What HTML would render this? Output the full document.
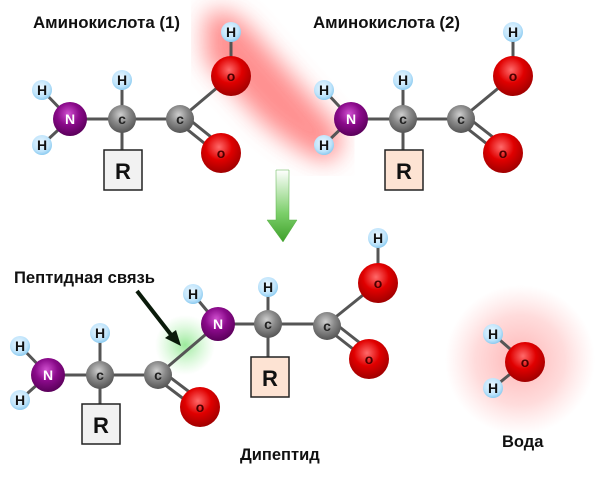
<!DOCTYPE html>
<html><head><meta charset="utf-8"><style>html,body{margin:0;padding:0;background:#fff}svg{display:block}</style></head><body>
<svg width="600" height="492" viewBox="0 0 600 492" xmlns="http://www.w3.org/2000/svg" font-family="Liberation Sans, sans-serif" font-weight="bold">
<defs>
<radialGradient id="gO" cx="0.45" cy="0.35" r="0.65"><stop offset="0" stop-color="#ff6a6a"/><stop offset="0.5" stop-color="#e00000"/><stop offset="1" stop-color="#a00000"/></radialGradient>
<radialGradient id="gN" cx="0.45" cy="0.35" r="0.65"><stop offset="0" stop-color="#d050d0"/><stop offset="0.5" stop-color="#8a0a8a"/><stop offset="1" stop-color="#5a005a"/></radialGradient>
<radialGradient id="gC" cx="0.45" cy="0.35" r="0.65"><stop offset="0" stop-color="#cfcfcf"/><stop offset="0.5" stop-color="#888"/><stop offset="1" stop-color="#555"/></radialGradient>
<radialGradient id="gH" cx="0.45" cy="0.4" r="0.6"><stop offset="0" stop-color="#eef8ff"/><stop offset="0.7" stop-color="#bfe4fb"/><stop offset="1" stop-color="#8ccbf0"/></radialGradient>
<radialGradient id="glowR"><stop offset="0" stop-color="#ff8080" stop-opacity="0.6"/><stop offset="0.6" stop-color="#ff9a9a" stop-opacity="0.35"/><stop offset="1" stop-color="#ffb0b0" stop-opacity="0"/></radialGradient>
<radialGradient id="glowG"><stop offset="0" stop-color="#70e070" stop-opacity="0.7"/><stop offset="1" stop-color="#a0f0a0" stop-opacity="0"/></radialGradient>
<linearGradient id="arr" x1="0" y1="0" x2="0" y2="1"><stop offset="0" stop-color="#fff"/><stop offset="0.6" stop-color="#7ccf6a"/><stop offset="1" stop-color="#3ea02a"/></linearGradient>
<filter id="blur"><feGaussianBlur stdDeviation="12"/></filter>
</defs>
<g filter="url(#blur)" opacity="0.7"><path d="M205,15 Q230,0 260,40 L340,130 Q345,165 320,160 Q295,150 260,120 L205,60 Z" fill="#ff6060"/></g>
<circle cx="520" cy="360" r="75" fill="url(#glowR)"/>
<circle cx="185" cy="345" r="30" fill="url(#glowG)"/>
<path d="M276,170 H289 V220 H297 L283,242 L267,220 H276 Z" fill="url(#arr)" stroke="#5bb04a" stroke-width="0.5"/>
<g stroke="#555" stroke-width="3" fill="none">
<line x1="42" y1="90" x2="70" y2="119"/><line x1="42" y1="145" x2="70" y2="119"/>
<line x1="70" y1="119" x2="180" y2="119"/><line x1="122" y1="80" x2="122" y2="150"/>
<line x1="180" y1="119" x2="231" y2="76"/><line x1="231" y1="32" x2="231" y2="76"/>
<line x1="178" y1="122" x2="214" y2="151"/><line x1="185" y1="116" x2="221" y2="145"/>
<line x1="324" y1="90" x2="351" y2="119"/><line x1="324" y1="145" x2="351" y2="119"/>
<line x1="351" y1="119" x2="461" y2="119"/><line x1="403" y1="80" x2="403" y2="150"/>
<line x1="461" y1="119" x2="513" y2="76"/><line x1="513" y1="32" x2="513" y2="76"/>
<line x1="459" y1="122" x2="496" y2="151"/><line x1="466" y1="116" x2="503" y2="145"/>
<line x1="20" y1="346" x2="48" y2="375"/><line x1="20" y1="400" x2="48" y2="375"/>
<line x1="48" y1="375" x2="158" y2="375"/><line x1="100" y1="333" x2="100" y2="405"/>
<line x1="158" y1="375" x2="218" y2="324"/>
<line x1="156" y1="378" x2="193" y2="406"/><line x1="163" y1="372" x2="200" y2="400"/>
<line x1="193" y1="294" x2="218" y2="324"/>
<line x1="218" y1="324" x2="327" y2="324"/><line x1="268" y1="287" x2="268" y2="358"/>
<line x1="327" y1="324" x2="378" y2="283"/><line x1="378" y1="238" x2="378" y2="283"/>
<line x1="325" y1="327" x2="362" y2="356"/><line x1="332" y1="321" x2="369" y2="350"/>
<line x1="493" y1="334" x2="525" y2="362"/><line x1="493" y1="388" x2="525" y2="362"/>
</g>
<rect x="104" y="150" width="38" height="40" fill="#f2f2f2" stroke="#222" stroke-width="1.5"/>
<rect x="385" y="150" width="38" height="40" fill="#fde3d3" stroke="#222" stroke-width="1.5"/>
<rect x="82" y="404" width="38" height="40" fill="#f2f2f2" stroke="#222" stroke-width="1.5"/>
<rect x="251" y="357" width="38" height="40" fill="#fde3d3" stroke="#222" stroke-width="1.5"/>
<g font-size="22" text-anchor="middle" fill="#111">
<text x="123" y="179">R</text><text x="404" y="179">R</text><text x="101" y="433">R</text><text x="270" y="386">R</text>
</g>
<line x1="137" y1="291" x2="172" y2="336" stroke="#0a1a0a" stroke-width="4"/>
<path d="M181,346 L165,338 L176,330 Z" fill="#0a1a0a"/>
<g text-anchor="middle">
<g fill="url(#gH)"><circle cx="231" cy="32" r="10"/><circle cx="42" cy="90" r="10"/><circle cx="42" cy="145" r="10"/><circle cx="122" cy="80" r="10"/>
<circle cx="513" cy="32" r="10"/><circle cx="324" cy="90" r="10"/><circle cx="324" cy="145" r="10"/><circle cx="403" cy="80" r="10"/>
<circle cx="20" cy="346" r="10"/><circle cx="20" cy="400" r="10"/><circle cx="100" cy="333" r="10"/><circle cx="193" cy="294" r="10"/><circle cx="268" cy="287" r="10"/><circle cx="378" cy="238" r="10"/>
<circle cx="493" cy="334" r="10"/><circle cx="493" cy="388" r="10"/></g>
<g fill="#111" font-size="14">
<text x="231" y="37">H</text><text x="42" y="95">H</text><text x="42" y="150">H</text><text x="122" y="85">H</text>
<text x="513" y="37">H</text><text x="324" y="95">H</text><text x="324" y="150">H</text><text x="403" y="85">H</text>
<text x="20" y="351">H</text><text x="20" y="405">H</text><text x="100" y="338">H</text><text x="193" y="299">H</text><text x="268" y="292">H</text><text x="378" y="243">H</text>
<text x="493" y="339">H</text><text x="493" y="393">H</text></g>
<g fill="url(#gO)"><circle cx="231" cy="76" r="20"/><circle cx="221" cy="153" r="20"/><circle cx="513" cy="76" r="20"/><circle cx="503" cy="153" r="20"/>
<circle cx="200" cy="407" r="20"/><circle cx="378" cy="283" r="20"/><circle cx="369" cy="359" r="20"/><circle cx="525" cy="362" r="20"/></g>
<g fill="#4a0000" font-size="14"><text x="231" y="81">o</text><text x="221" y="158">o</text><text x="513" y="81">o</text><text x="503" y="158">o</text>
<text x="200" y="412">o</text><text x="378" y="288">o</text><text x="369" y="364">o</text><text x="525" y="367">o</text></g>
<g fill="url(#gN)"><circle cx="70" cy="119" r="17"/><circle cx="351" cy="119" r="17"/><circle cx="48" cy="375" r="17"/><circle cx="218" cy="324" r="17"/></g>
<g fill="#fff" font-size="14"><text x="70" y="124">N</text><text x="351" y="124">N</text><text x="48" y="380">N</text><text x="218" y="329">N</text></g>
<g fill="url(#gC)"><circle cx="122" cy="119" r="14"/><circle cx="180" cy="119" r="14"/><circle cx="403" cy="119" r="14"/><circle cx="461" cy="119" r="14"/>
<circle cx="100" cy="375" r="14"/><circle cx="158" cy="375" r="14"/><circle cx="268" cy="324" r="14"/><circle cx="327" cy="326" r="14"/></g>
<g fill="#222" font-size="14"><text x="122" y="124">c</text><text x="180" y="124">c</text><text x="403" y="124">c</text><text x="461" y="124">c</text>
<text x="100" y="380">c</text><text x="158" y="380">c</text><text x="268" y="329">c</text><text x="327" y="331">c</text></g>
</g>
<g font-size="16.5" fill="#111">
<text x="33" y="28" textLength="147" lengthAdjust="spacingAndGlyphs">Аминокислота (1)</text>
<text x="313" y="28" textLength="147" lengthAdjust="spacingAndGlyphs">Аминокислота (2)</text>
<text x="14" y="283" textLength="141" lengthAdjust="spacingAndGlyphs">Пептидная связь</text>
<text x="240" y="460">Дипептид</text>
<text x="502" y="447">Вода</text>
</g>
</svg>
</body></html>
